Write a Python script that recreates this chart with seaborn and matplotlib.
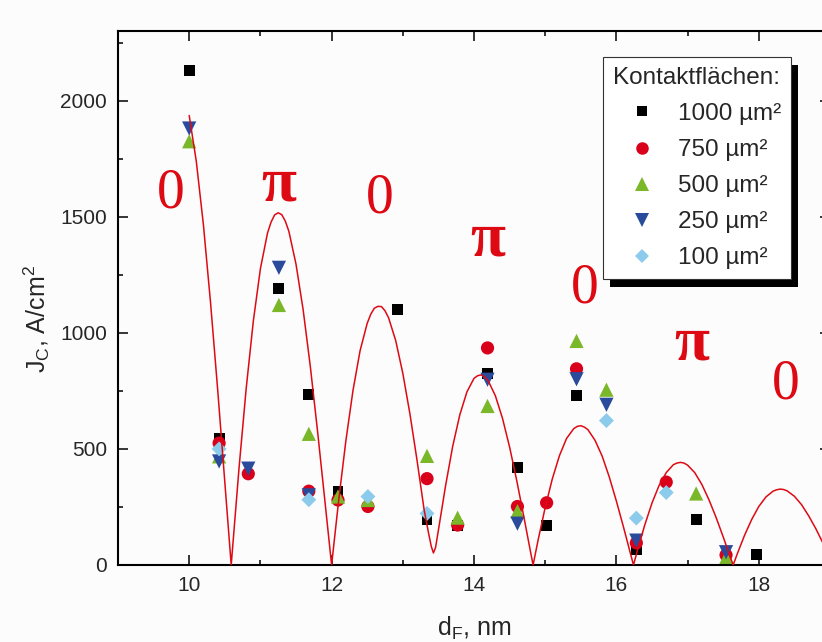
import matplotlib
matplotlib.use("Agg")
import matplotlib.pyplot as plt
import numpy as np
import pandas as pd
import seaborn as sns
from matplotlib.lines import Line2D
from matplotlib.patches import Rectangle
from matplotlib.ticker import MultipleLocator

# Barrier thickness d_F (nm) of the measured samples
d_F = [10.0, 10.42, 10.83, 11.26, 11.68, 12.09, 12.51, 12.93, 13.34, 13.77,
       14.19, 14.61, 15.02, 15.44, 15.86, 16.28, 16.70, 17.12, 17.54, 17.97]
nan = np.nan
# J_C (A/cm^2) per contact area
jc_1000 = [2130, 545, nan, 1190, 735, 315, nan, 1100, 197, 170,
           825, 420, 172, 732, nan, 65, nan, 194, nan, 46]
jc_750 = [nan, 525, 393, nan, 318, 280, 252, nan, 372, 172,
          935, 252, 268, 845, nan, 95, 357, nan, 43, nan]
jc_500 = [1825, 468, nan, 1120, 565, 295, 280, nan, 470, 204,
          685, 232, nan, 965, 755, nan, nan, 308, 32, nan]
jc_250 = [1880, 446, 415, 1280, 300, nan, nan, nan, nan, nan,
          798, 178, nan, 800, 690, 105, nan, nan, 55, nan]
jc_100 = [nan, 500, nan, nan, 281, nan, 295, nan, 222, nan,
          nan, nan, nan, nan, 622, 202, 312, nan, nan, nan]

areas = ["1000", "750", "500", "250", "100"]
series = [jc_1000, jc_750, jc_500, jc_250, jc_100]

# theory curve, points
fit_d = [10.0, 10.1, 10.2, 10.3, 10.4, 10.5, 10.59,
         10.7, 10.8, 10.9, 11.0, 11.1, 11.15, 11.2, 11.25, 11.3, 11.35, 11.4, 11.5,
         11.6, 11.7, 11.8, 11.9, 12.0,
         12.1, 12.2, 12.3, 12.4, 12.5, 12.55, 12.6, 12.65, 12.7, 12.75, 12.8, 12.9,
         13.0, 13.1, 13.2, 13.3, 13.36, 13.4, 13.43, 13.46, 13.5,
         13.6, 13.7, 13.8, 13.9, 14.0, 14.05, 14.1, 14.15, 14.2, 14.3, 14.4, 14.5,
         14.6, 14.7, 14.8, 14.83,
         14.9, 15.0, 15.1, 15.2, 15.3, 15.4, 15.45, 15.5, 15.55, 15.6, 15.7, 15.8,
         15.9, 16.0, 16.1, 16.2, 16.24,
         16.3, 16.4, 16.5, 16.6, 16.7, 16.8, 16.85, 16.9, 16.95, 17.0, 17.1, 17.2,
         17.3, 17.4, 17.5, 17.6, 17.64,
         17.7, 17.8, 17.9, 18.0, 18.1, 18.2, 18.25, 18.3, 18.35, 18.4, 18.5, 18.6,
         18.7, 18.8, 18.9, 19.0]
fit_jc = [1936, 1738, 1464, 1129, 755, 358, 0,
          418, 759, 1049, 1276, 1430, 1477, 1508, 1517, 1509, 1481, 1437, 1296,
          1100, 858, 584, 293, 0,
          280, 534, 751, 923, 1041, 1080, 1106, 1114, 1113, 1095, 1065, 967,
          826, 651, 451, 237, 140, 80, 52, 75, 150,
          340, 510, 646, 745, 804, 815, 819, 810, 793, 729, 632, 508,
          364, 208, 47, 0,
          107, 248, 371, 471, 545, 587, 597, 600, 594, 583, 537, 469,
          379, 275, 163, 46, 0,
          68, 174, 267, 343, 398, 432, 439, 442, 439, 430, 398, 347,
          281, 205, 121, 34, 0,
          50, 128, 196, 252, 293, 318, 324, 327, 325, 319, 296, 260,
          212, 157, 95, 31]

# 0 / pi labels above the branches
phase_labels = ["0", "π", "0", "π", "0", "π", "0"]
phase_d = [9.74, 11.26, 12.68, 14.2, 15.56, 17.06, 18.38]
phase_jc = [1538, 1570, 1517, 1335, 1132, 886, 716]

colors = {"1000": "#000000", "750": "#d9001b", "500": "#7ab829",
          "250": "#2a4b9b", "100": "#8ccbeb"}
markers = {"1000": "s", "750": "o", "500": "^", "250": "v", "100": "D"}
sizes = {"1000": 62, "750": 90, "500": 105, "250": 105, "100": 58}
RED = "#dd0a14"

sns.set_style("ticks")
plt.rcParams["font.family"] = ["Liberation Sans", "DejaVu Sans"]
plt.rcParams["mathtext.fontset"] = "custom"
plt.rcParams["mathtext.rm"] = "Liberation Sans"
plt.rcParams["mathtext.it"] = "Liberation Sans"

df = pd.concat(
    [pd.DataFrame({"d": d_F, "J": vals, "area": a}) for a, vals in zip(areas, series)]
).dropna()

fig = plt.figure(figsize=(8.22, 6.42), dpi=100, facecolor="#fcfcfc")
ax = fig.add_axes([118 / 822, 77 / 642, 712 / 822, 534 / 642])
ax.set_facecolor("#fcfcfc")

sns.scatterplot(data=df, x="d", y="J", hue="area", style="area", size="area",
                hue_order=areas, palette=colors, markers=markers, sizes=sizes,
                linewidth=0, legend=False, ax=ax, zorder=2)
sns.lineplot(x=fit_d, y=fit_jc, color=RED, lw=1.1, ax=ax, zorder=3)

for lab, x, y in zip(phase_labels, phase_d, phase_jc):
    is_pi = lab == "π"
    ax.text(x, y, lab, color=RED, fontsize=46 if is_pi else 40, ha="center",
            va="baseline", family="Liberation Serif",
            fontweight="bold" if is_pi else "normal", zorder=4)

ax.set_xlim(9, 19)
ax.set_ylim(0, 2300)
ax.xaxis.set_major_locator(MultipleLocator(2))
ax.xaxis.set_minor_locator(MultipleLocator(1))
ax.yaxis.set_major_locator(MultipleLocator(500))
ax.yaxis.set_minor_locator(MultipleLocator(250))
ax.tick_params(which="both", direction="in", top=True, right=True,
               width=1.1, color="black", labelsize=15, pad=8)
ax.tick_params(which="major", length=7)
ax.tick_params(which="minor", length=3.5)
for sp in ax.spines.values():
    sp.set_linewidth(1.5)
    sp.set_color("black")

ax.set_xlabel("d$_\\mathregular{F}$, nm", fontsize=18)
ax.set_ylabel("J$_\\mathregular{C}$, A/cm$^\\mathregular{2}$", fontsize=18)
ax.xaxis.set_label_coords(0.5, -0.094)
ax.yaxis.set_label_coords(-0.092, 0.46)

handles = [Line2D([], [], ls="none", marker=markers[a], color=colors[a],
                  markersize=np.sqrt(sizes[a]) * 0.95, markeredgewidth=0)
           for a in areas]
labels = [f"{a} µm²" for a in areas]
leg = ax.legend(handles, labels, title="Kontaktflächen:", loc="upper left",
                bbox_to_anchor=(0.681, 0.951), borderaxespad=0, fontsize=17.5,
                title_fontsize=17.5, fancybox=False, framealpha=1,
                edgecolor="#333333", borderpad=0.4, handlelength=2.4,
                handletextpad=0.28, labelspacing=0.58)
leg.get_frame().set_linewidth(0.8)
leg.set_zorder(6)

# hard black drop shadow like the original
fig.canvas.draw()
bb = leg.get_window_extent()
ax.add_patch(Rectangle((bb.x0 + 7, bb.y0 - 8), bb.width, bb.height,
                       transform=None, facecolor="black", edgecolor="none",
                       zorder=5.5, clip_on=False))

fig.savefig("out.png", dpi=100, facecolor=fig.get_facecolor())
